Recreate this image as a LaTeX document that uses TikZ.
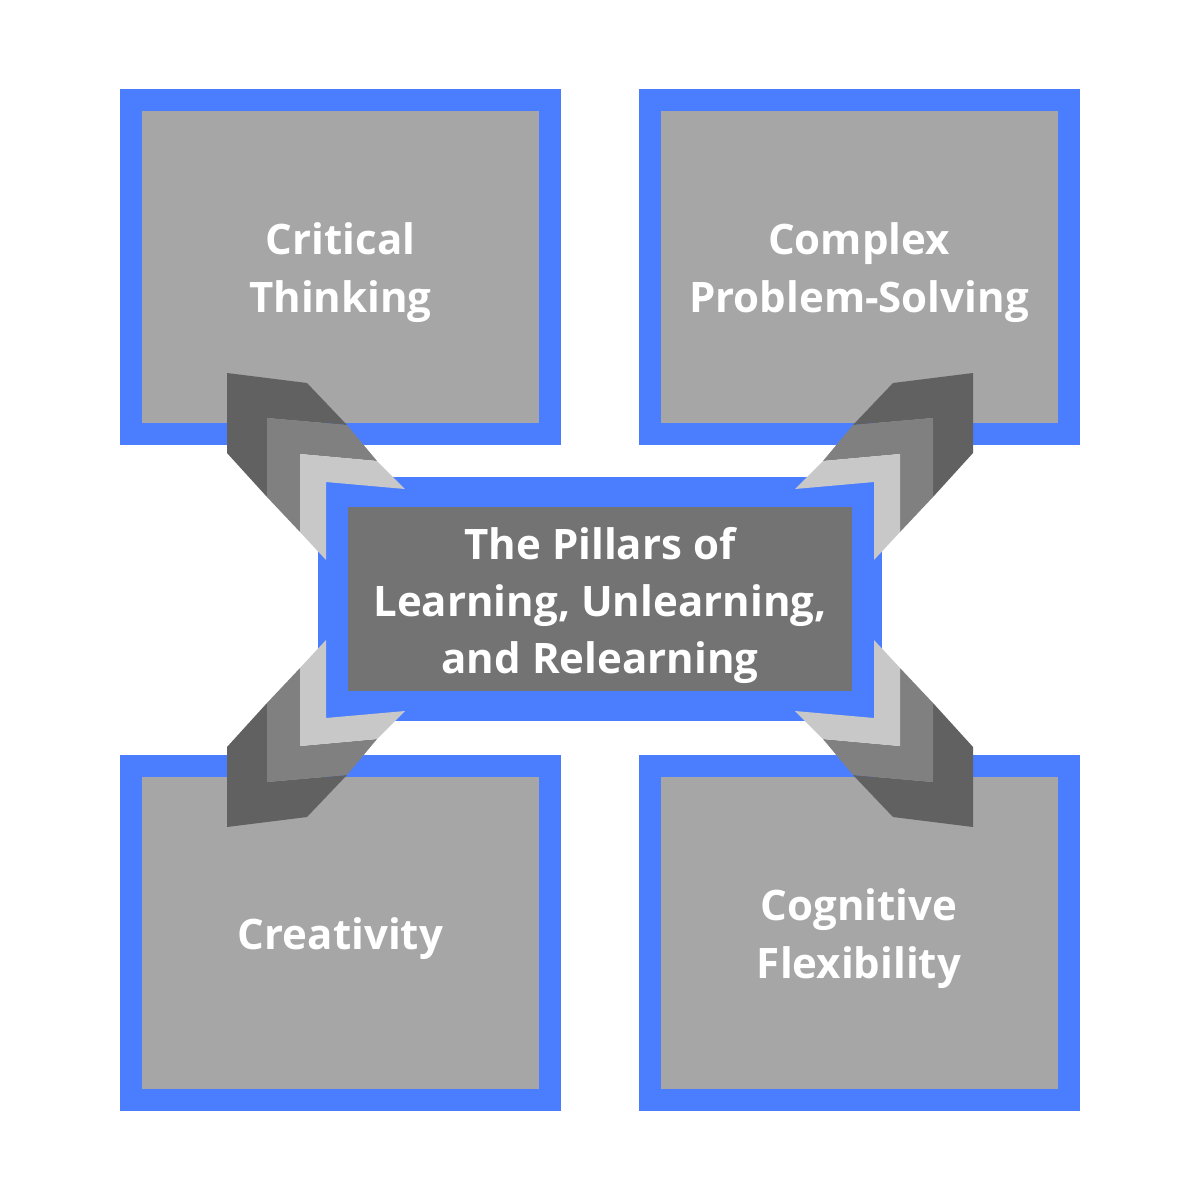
\documentclass[tikz,border=0pt]{standalone}
\usepackage{fontspec}
\setmainfont{Open Sans}
\usetikzlibrary{positioning}
\definecolor{pillarblue}{RGB}{74,126,255}
\definecolor{boxgray}{RGB}{166,166,166}
\definecolor{coregray}{RGB}{115,115,115}
\definecolor{chevdark}{RGB}{97,97,97}
\definecolor{chevmid}{RGB}{128,128,128}
\definecolor{chevlight}{RGB}{200,200,200}
\newcommand{\pillarchevrons}{%
  \fill[chevdark] (227,373) -- (307,383) -- (347,425) -- (267,418) -- (267,497) -- (227,453) -- cycle;
  \fill[chevmid] (267,418) -- (347,425) -- (377,461) -- (300,454) -- (300,532) -- (267,497) -- cycle;
  \fill[chevlight] (300,454) -- (377,461) -- (405,489) -- (326,482) -- (326,560) -- (300,532) -- cycle;
}

\begin{document}
\begin{tikzpicture}[x=1pt, y=-1pt,
  pillartext/.style={text=white, align=center, font=\fontsize{42}{58}\selectfont\bfseries, yshift=-6pt},
  pillar/.style={draw=pillarblue, fill=boxgray, line width=22pt, minimum width=419pt, minimum height=334pt,
    inner sep=0pt, label={[pillartext]center:{#1}}},
  core/.style={draw=pillarblue, fill=coregray, line width=30pt, minimum width=534pt, minimum height=214pt,
    inner sep=0pt, label={[pillartext, font=\fontsize{42}{57}\selectfont\bfseries]center:{#1}}}]
  \useasboundingbox[fill=white] (0,0) rectangle (1200,1200);

  \node[pillar={Critical\\Thinking}] (critical) at (340.5,267) {};
  \node[pillar={Complex\\Problem-Solving}] (complex) at (859,267) {};
  \node[pillar={Creativity}] (creativity) at (340.5,932.5) {};
  \node[pillar={Cognitive\\Flexibility}] (flexibility) at (859,932.5) {};
  \node[core={The Pillars of\\Learning, Unlearning,\\and Relearning}] (pillars) at (600,599) {};

  % chevrons from the core out to each pillar
  \foreach \sx/\sy in {1/1, -1/1, 1/-1, -1/-1} {
    \begin{scope}[shift={(600,600)}, xscale=\sx, yscale=\sy, shift={(-600,-600)}]
      \pillarchevrons
    \end{scope}
  }
\end{tikzpicture}
\end{document}
